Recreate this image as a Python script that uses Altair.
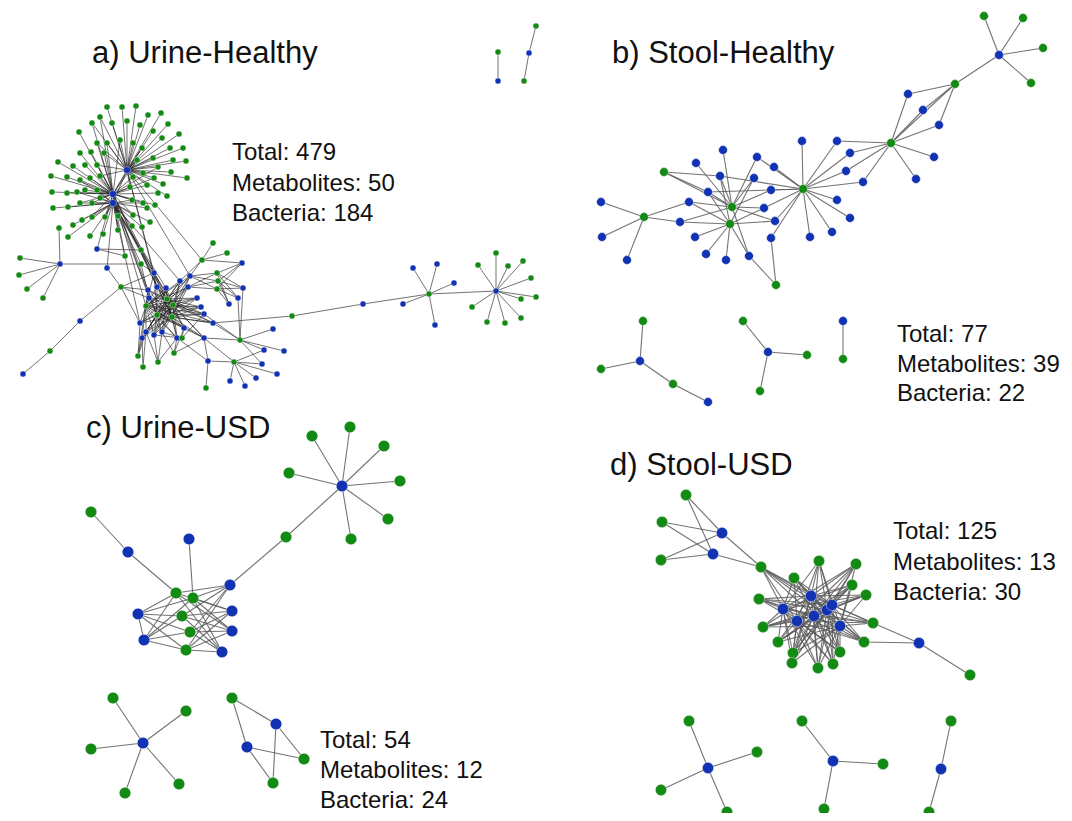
import altair as alt
import pandas as pd

GREEN = "#138a13"   # bacteria
BLUE = "#1232b4"    # metabolites

# ---------------- Panel a) Urine-Healthy ----------------
A_BLUE = {
    "h0": (127, 170), "h1": (113, 194), "h2": (113, 203),
    "ba1": (97, 249), "blh": (60, 264), "ba2": (107, 268), "bch1": (80, 321), "bch2": (23, 374),
    "c1": (154, 273), "c2": (148, 290), "c3": (157, 287), "c4": (166, 288), "c5": (180, 281),
    "c6": (190, 276), "c7": (188, 287), "c8": (197, 298), "c9": (201, 307), "c10": (204, 314),
    "c11": (213, 323), "c12": (149, 298), "c13": (140, 323), "c14": (146, 332), "c15": (142, 338),
    "c16": (154, 335), "c17": (162, 332), "c18": (177, 338), "c19": (204, 338), "c20": (184, 328),
    "r1": (242, 263), "r2": (243, 288), "r3": (238, 298), "r4": (229, 304),
    "s1": (273, 329), "s2": (264, 350), "s3": (284, 351), "s4": (208, 361), "s5": (262, 364),
    "s6": (256, 378), "s7": (277, 374), "s8": (230, 381), "s9": (245, 386),
    "t1": (363, 304), "t2": (413, 268), "t3": (437, 264), "t4": (454, 283), "t5": (403, 304), "t6": (435, 325),
    "U": (496, 291),
    "m1": (498, 81), "m2": (529, 53),
}
A_GREEN = {
    "gtop": (59, 228),
    "gl1": (20, 258), "gl2": (19, 275), "gl3": (27, 289), "gl4": (43, 298),
    "gm1": (121, 287), "gm2": (125, 256), "gm3": (141, 250), "gm4": (141, 264), "gch": (50, 351),
    "k1": (167, 299), "k2": (173, 305), "k3": (172, 317), "k4": (157, 315), "k5": (146, 306), "k7": (182, 338),
    "o1": (138, 356), "o2": (143, 367), "o3": (158, 362), "o4": (174, 353),
    "q1": (202, 260), "q2": (213, 243), "q3": (227, 253), "q4": (217, 273), "q5": (218, 281), "q6": (217, 289),
    "p1": (240, 340), "p2": (234, 362), "f1": (292, 316), "f2": (206, 388),
    "T": (429, 294),
    "u1": (496, 253), "u2": (478, 265), "u3": (508, 266), "u4": (523, 261), "u5": (531, 278), "u6": (536, 297),
    "u7": (521, 299), "u8": (472, 307), "u9": (487, 322), "u10": (505, 323), "u11": (521, 318),
    "n1": (498, 52), "n2": (536, 26), "n3": (524, 81),
}
# hairball leaves: x, y, hubs they link to (0 -> h0, 1 -> h1, 2 -> h2)
A_HAIR = [
    (107, 107, "0"), (122, 107, "0"), (136, 106, "0"), (148, 115, "0"), (161, 113, "0"),
    (100, 117, "01"), (112, 123, "0"), (127, 121, "0"), (140, 125, "0"), (168, 124, "0"),
    (92, 123, "01"), (153, 131, "0"), (179, 134, "0"), (79, 132, "1"), (97, 143, "01"),
    (107, 143, "01"), (120, 140, "01"), (133, 143, "0"), (162, 138, "0"), (170, 148, "0"),
    (183, 148, "0"), (80, 153, "1"), (91, 152, "1"), (104, 153, "01"), (142, 148, "01"),
    (153, 158, "0"), (173, 160, "0"), (186, 161, "0"), (58, 162, "1"), (73, 166, "1"),
    (85, 165, "1"), (97, 165, "01"), (137, 160, "01"), (158, 167, "01"), (171, 172, "0"),
    (187, 178, "0"), (51, 176, "1"), (67, 177, "1"), (80, 180, "12"), (90, 178, "1"),
    (100, 176, "01"), (133, 177, "01"), (143, 173, "0"), (154, 178, "01"), (163, 184, "0"),
    (52, 192, "1"), (67, 193, "1"), (77, 192, "12"), (85, 190, "1"), (97, 190, "12"),
    (130, 187, "01"), (147, 185, "01"), (158, 193, "1"), (167, 196, "0"), (53, 208, "2"),
    (68, 207, "2"), (80, 203, "12"), (92, 203, "12"), (100, 198, "12"), (132, 200, "12"),
    (143, 203, "12"), (155, 205, "1"), (73, 225, "2"), (82, 220, "2"), (92, 217, "12"),
    (105, 217, "12"), (118, 216, "12"), (133, 215, "12"), (147, 208, "2"), (150, 222, "2"),
    (68, 237, "2"), (90, 236, "2"), (103, 234, "2"), (118, 230, "12"), (132, 226, "2"),
    (142, 227, "2"),
]


def star(hub, leaves):
    return [(hub, l) for l in leaves]


def full(a, b):
    return [(i, j) for i in a for j in b]


C_ALL = [f"c{i}" for i in range(1, 21)]
A_EDGES = (
    [("h0", "q1"), ("h1", "c1"), ("h1", "c3"), ("h1", "c2"), ("h2", "c4"), ("h2", "k1"), ("h2", "k2"),
     ("h1", "k5"), ("h2", "c5"), ("h1", "gm2"), ("h2", "gm3"), ("h2", "gm4"), ("h1", "c12"), ("h2", "k4"),
     ("h0", "c6"), ("h0", "c1"), ("h1", "ba1"), ("h2", "ba2"), ("h0", "h1"), ("h0", "h2"), ("h1", "h2"),
     ("h0", "c3"), ("h1", "k3"), ("h2", "c13")]
    + star("ba1", ["gm2", "gm3"])
    + star("blh", ["gl1", "gl2", "gl3", "gl4", "gtop", "gm4"])
    + star("ba2", ["gm1"])
    + [("gm1", "bch1"), ("bch1", "gch"), ("gch", "bch2")]
    + star("gm1", ["c1", "c2", "c12", "c13"])
    + star("gm3", ["c1", "c3"]) + star("gm4", ["c1", "c12"])
    + full(["k1", "k2", "k3", "k4", "k5"], C_ALL)
    + star("k7", ["c16", "c17", "c18", "c20", "c10"])
    + star("o1", ["c13", "c14", "c15", "c2"]) + star("o2", ["c15", "c14"])
    + star("o3", ["c16", "c17", "c14", "c18"]) + star("o4", ["c18", "c17", "c20", "c19"])
    + [("q1", "q2"), ("q1", "q3"), ("q1", "c6"), ("q1", "c5"), ("q1", "r1")]
    + full(["q4", "q5", "q6"], ["r1", "r2", "r3", "r4", "c6", "c7"])
    + star("p1", ["r3", "r2", "c19", "c11", "s1", "s2", "s3", "s5", "c10"])
    + star("p2", ["s5", "s6", "s7", "s8", "s9", "s4", "c19", "s2"])
    + [("s4", "c18"), ("s4", "f2"), ("s4", "c19")]
    + [("c11", "f1"), ("f1", "t1"), ("t1", "T"), ("T", "U")]
    + star("T", ["t2", "t3", "t4", "t5", "t6"])
    + star("U", [f"u{i}" for i in range(1, 12)])
    + [("n1", "m1"), ("n2", "m2"), ("m2", "n3")]
)

# ---------------- Panel b) Stool-Healthy ----------------
B_GREEN = {
    "g1": (984, 16), "g2": (1023, 18), "g3": (1043, 48), "g4": (1031, 83), "g5": (955, 84),
    "G1": (891, 143), "G2": (803, 189), "G3": (732, 207), "G4": (730, 224), "g6": (664, 172),
    "G5": (644, 217), "g7": (776, 285),
    "x1": (643, 321), "x2": (601, 369), "x3": (673, 384), "x4": (743, 321), "x5": (807, 355),
    "x6": (760, 391), "x7": (843, 359),
}
B_BLUE = {
    "B0": (999, 55), "b1": (908, 94), "b2": (923, 110), "b3": (939, 125), "b4": (934, 157),
    "b5": (916, 179), "b6": (837, 141), "b7": (850, 153), "b8": (846, 171), "b9": (863, 182),
    "b10": (802, 141), "b11": (757, 157), "b12": (774, 167), "b13": (754, 178), "b14": (771, 190),
    "b15": (764, 208), "b16": (775, 221), "b17": (771, 238), "b18": (837, 200), "b19": (850, 218),
    "b20": (832, 232), "b21": (810, 237), "b22": (723, 150), "b23": (696, 163), "b24": (720, 176),
    "b25": (708, 192), "b26": (689, 202), "b27": (680, 222), "b28": (695, 237), "b29": (706, 254),
    "b30": (726, 260), "b31": (749, 256), "b32": (601, 202), "b33": (602, 237), "b34": (627, 260),
    "y1": (640, 361), "y2": (708, 402), "y3": (768, 352), "y4": (843, 321),
}
B_EDGES = (
    star("B0", ["g1", "g2", "g3", "g4", "g5"])
    + star("g5", ["b1", "b2", "b3", "G1"])
    + star("G1", ["b1", "b2", "b3", "b4", "b5", "b6", "b7", "b8", "b9"])
    + star("G2", ["b10", "b6", "b7", "b8", "b9", "b11", "b12", "b14", "b15", "b16", "b17", "b18",
                  "b19", "b20", "b21", "b25", "b24"])
    + star("G3", ["b22", "b23", "b24", "b25", "b26", "b27", "b11", "b13", "b14", "b15", "b16",
                  "b31", "g6"])
    + star("G4", ["b28", "b29", "b30", "b31", "b26", "b27", "b13", "b15", "b16", "b25", "b24"])
    + star("G5", ["b32", "b33", "b34", "b26", "b27"])
    + star("g7", ["b17", "b31"]) + star("g6", ["b25", "b24"])
    + star("y1", ["x1", "x2", "x3"]) + [("x3", "y2")]
    + star("y3", ["x4", "x5", "x6"]) + [("y4", "x7")]
)

# ---------------- Panel c) Urine-USD ----------------
C_GREEN = {
    "g1": (91, 512), "k1": (176, 593), "k2": (193, 598), "k3": (182, 616), "k4": (190, 632),
    "k5": (186, 650), "g2": (286, 537),
    "s1": (312, 436), "s2": (350, 427), "s3": (384, 446), "s4": (400, 481), "s5": (388, 519),
    "s6": (351, 539), "s7": (289, 473),
    "l1": (113, 698), "l2": (186, 711), "l3": (91, 749), "l4": (179, 784), "l5": (125, 793),
    "z1": (232, 698), "z2": (304, 759), "z3": (273, 783),
}
C_BLUE = {
    "b1": (128, 552), "b2": (189, 539), "c1": (138, 614), "c2": (144, 640), "c3": (230, 585),
    "c4": (232, 611), "c5": (232, 631), "c6": (222, 652), "H": (342, 486),
    "H2": (143, 743), "y1": (276, 724), "y2": (247, 747),
}
C_EDGES = (
    [("g1", "b1"), ("b1", "k1"), ("b2", "k2"), ("c3", "g2"), ("g2", "H"), ("c1", "c2")]
    + star("H", ["s1", "s2", "s3", "s4", "s5", "s6", "s7"])
    + full(["c1", "c2", "c3", "c4", "c5", "c6"], ["k1", "k2", "k3", "k4", "k5"])
    + star("H2", ["l1", "l2", "l3", "l4", "l5"])
    + [("z1", "y1"), ("z1", "y2"), ("y1", "z2"), ("y1", "z3"), ("y2", "z2"), ("y2", "z3")]
)

# ---------------- Panel d) Stool-USD ----------------
D_GREEN = {
    "a1": (686, 495), "a2": (662, 522), "a3": (661, 560), "a4": (761, 567),
    "k1": (819, 561), "k2": (856, 564), "k3": (794, 578), "k4": (852, 585), "k5": (866, 595),
    "k6": (759, 599), "k7": (763, 627), "k8": (778, 642), "k9": (873, 623), "k10": (864, 642),
    "k11": (793, 653), "k12": (792, 663), "k13": (818, 668), "k14": (833, 664), "k15": (840, 652),
    "e1": (970, 675),
    "l1": (689, 721), "l2": (757, 752), "l3": (661, 790), "l4": (727, 812),
    "m1": (802, 721), "m2": (883, 764), "m3": (824, 809),
    "n1": (951, 721), "n2": (929, 812),
}
D_BLUE = {
    "u1": (722, 533), "u2": (713, 554),
    "c1": (811, 596), "c2": (783, 609), "c3": (797, 621), "c4": (814, 616), "c5": (827, 610),
    "c6": (832, 605), "c7": (840, 626), "v": (919, 643),
    "H1": (708, 768), "H2": (833, 761), "H3": (941, 769),
}
D_EDGES = (
    full(["a1", "a2", "a3"], ["u1", "u2"]) + [("u1", "a4"), ("u2", "a4")]
    + full([f"c{i}" for i in range(1, 8)], ["a4"] + [f"k{i}" for i in range(1, 16)])
    + star("v", ["k9", "k10", "e1"])
    + star("H1", ["l1", "l2", "l3", "l4"]) + star("H2", ["m1", "m2", "m3"]) + star("H3", ["n1", "n2"])
)

# ---------------- Labels ----------------
TITLES = ["a) Urine-Healthy", "b) Stool-Healthy", "c) Urine-USD", "d) Stool-USD"]
TITLE_X = [92, 612, 86, 610]
TITLE_Y = [63, 63, 438, 475]
STATS = ["Total: 479", "Metabolites: 50", "Bacteria: 184",
         "Total: 77", "Metabolites: 39", "Bacteria: 22",
         "Total: 54", "Metabolites: 12", "Bacteria: 24",
         "Total: 125", "Metabolites: 13", "Bacteria: 30"]
STATS_X = [232, 232, 232, 897, 897, 897, 320, 320, 320, 893, 893, 893]
STATS_Y = [160, 191, 221, 342, 372, 401, 748, 778, 808, 539, 570, 600]

# ---------------- Build tables ----------------
NODE_SIZE = {"a": 36, "b": 78, "c": 135, "d": 128}
HUB_SIZE = 52
nodes = {}


def add(panel, blue, green):
    for k, (x, y) in blue.items():
        nodes[f"{panel}:{k}"] = dict(x=x, y=y, kind="Metabolite", panel=panel)
    for k, (x, y) in green.items():
        nodes[f"{panel}:{k}"] = dict(x=x, y=y, kind="Bacteria", panel=panel)


add("a", A_BLUE, A_GREEN)
hair_edges = []
for i, (x, y, links) in enumerate(A_HAIR):
    nodes[f"a:hair{i}"] = dict(x=x, y=y, kind="Bacteria", panel="a")
    for c in links:
        hair_edges.append((f"hair{i}", f"h{c}"))
add("b", B_BLUE, B_GREEN)
add("c", C_BLUE, C_GREEN)
add("d", D_BLUE, D_GREEN)

for nid, n in nodes.items():
    n["sz"] = HUB_SIZE if nid in ("a:h0", "a:h1", "a:h2") else NODE_SIZE[n["panel"]]

node_df = pd.DataFrame([dict(id=k, **v) for k, v in nodes.items()])

edge_rows = []
for panel, elist in [("a", A_EDGES + hair_edges), ("b", B_EDGES), ("c", C_EDGES), ("d", D_EDGES)]:
    for s, t in elist:
        a = nodes[f"{panel}:{s}"]
        b = nodes[f"{panel}:{t}"]
        edge_rows.append(dict(panel=panel, x=a["x"], y=a["y"], x2=b["x"], y2=b["y"]))
edge_df = pd.DataFrame(edge_rows)

title_df = pd.DataFrame(dict(label=TITLES, x=TITLE_X, y=TITLE_Y))
stats_df = pd.DataFrame(dict(label=STATS, x=STATS_X, y=STATS_Y))

XS = alt.Scale(domain=[8, 1064], nice=False, zero=False)
YS = alt.Scale(domain=[8, 813], nice=False, zero=False, reverse=True)
xe = alt.X("x:Q", scale=XS, axis=None)
ye = alt.Y("y:Q", scale=YS, axis=None)

edges_a = alt.Chart(edge_df[edge_df.panel == "a"]).mark_rule(
    color="#222222", strokeWidth=0.9, opacity=0.7
).encode(x=xe, y=ye, x2="x2:Q", y2="y2:Q")

edges_o = alt.Chart(edge_df[edge_df.panel != "a"]).mark_rule(
    color="#5a5a5a", strokeWidth=1.1, opacity=0.85
).encode(x=xe, y=ye, x2="x2:Q", y2="y2:Q")

node_layer = alt.Chart(node_df).mark_circle(opacity=1, stroke="#ffffff", strokeWidth=0.4).encode(
    x=xe, y=ye,
    size=alt.Size("sz:Q", scale=None),
    color=alt.Color("kind:N", scale=alt.Scale(domain=["Metabolite", "Bacteria"], range=[BLUE, GREEN]),
                    legend=None),
)

titles = alt.Chart(title_df).mark_text(
    align="left", baseline="alphabetic", font="Liberation Sans", fontSize=31, color="#111111"
).encode(x=xe, y=ye, text="label:N")

stats = alt.Chart(stats_df).mark_text(
    align="left", baseline="alphabetic", font="Liberation Sans", fontSize=24, color="#111111"
).encode(x=xe, y=ye, text="label:N")

chart = alt.layer(edges_a, edges_o, node_layer, titles, stats).properties(
    width=1056, height=805, padding=0,
    autosize=alt.AutoSizeParams(type="none"),
).configure_view(stroke=None)

chart.save("out.html", embed_options={"renderer": "svg", "actions": False})
